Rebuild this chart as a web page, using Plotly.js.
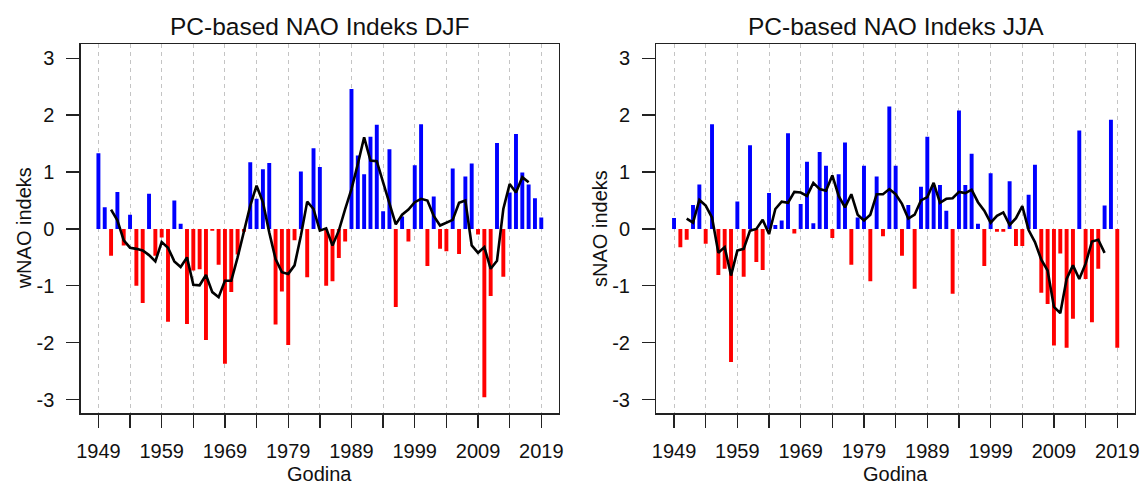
<!DOCTYPE html>
<html>
<head>
<meta charset="utf-8">
<script src="https://cdn.plot.ly/plotly-3.0.1.min.js"></script>
<style>
  html, body { margin: 0; padding: 0; background: #ffffff; }
  #chart { width: 1143px; height: 484px; }
</style>
</head>
<body>
<div id="chart"></div>
<script>
// ---- Data ----
const years = [1949,1950,1951,1952,1953,1954,1955,1956,1957,1958,1959,1960,1961,1962,1963,1964,1965,1966,1967,1968,
  1969,1970,1971,1972,1973,1974,1975,1976,1977,1978,1979,1980,1981,1982,1983,1984,1985,1986,1987,1988,
  1989,1990,1991,1992,1993,1994,1995,1996,1997,1998,1999,2000,2001,2002,2003,2004,2005,2006,2007,2008,
  2009,2010,2011,2012,2013,2014,2015,2016,2017,2018,2019];

// Winter (DJF) PC-based NAO index
const wNAO = [1.33,0.38,-0.47,0.65,-0.29,0.25,-1.00,-1.30,0.62,-0.47,-0.15,-1.63,0.50,0.09,-1.67,-0.73,-0.71,-1.95,-0.03,-0.63,
  -2.37,-1.11,-0.45,-0.05,1.17,0.53,1.05,1.16,-1.68,-1.10,-2.04,-0.20,1.01,-0.85,1.42,1.09,-1.00,-0.92,-0.51,-0.22,
  2.46,1.29,0.96,1.62,1.83,0.31,1.40,-1.37,0.22,-0.22,1.12,1.84,-0.65,0.57,-0.35,-0.39,1.06,-0.44,0.92,1.15,
  -0.10,-2.96,-1.18,1.51,-0.84,0.64,1.67,0.99,0.78,0.54,0.20];

// Summer (JJA) PC-based NAO index
const sNAO = [0.19,-0.32,-0.19,0.42,0.78,-0.26,1.84,-0.81,-0.70,-2.34,0.48,-0.84,1.47,-0.58,-0.72,0.63,0.07,0.15,1.68,-0.08,
  0.44,1.18,0.10,1.35,1.11,-0.16,0.96,1.52,-0.63,0.20,1.11,-0.92,0.92,-0.13,2.15,1.11,-0.47,0.42,-1.05,0.74,
  1.62,0.77,0.77,0.32,-1.14,2.08,0.77,1.32,0.09,-0.65,0.98,-0.05,-0.05,0.84,-0.30,-0.30,0.60,1.13,-1.12,-1.32,
  -2.05,-0.43,-2.09,-1.58,1.73,-0.88,-1.64,-0.70,0.41,1.92,-2.09];

// Smoothed curves (black lines), 1951-2017
const smoothYears = [1951,1952,1953,1954,1955,1956,1957,1958,1959,1960,1961,1962,1963,1964,1965,1966,1967,1968,1969,1970,
  1971,1972,1973,1974,1975,1976,1977,1978,1979,1980,1981,1982,1983,1984,1985,1986,1987,1988,1989,1990,
  1991,1992,1993,1994,1995,1996,1997,1998,1999,2000,2001,2002,2003,2004,2005,2006,2007,2008,2009,2010,
  2011,2012,2013,2014,2015,2016,2017];

const wSmooth = [0.34,0.15,-0.20,-0.33,-0.35,-0.38,-0.46,-0.57,-0.23,-0.33,-0.57,-0.67,-0.50,-0.98,-0.99,-0.81,-1.11,-1.20,-0.91,-0.91,
  -0.50,-0.06,0.41,0.76,0.47,-0.06,-0.53,-0.76,-0.79,-0.64,-0.12,0.48,0.35,-0.03,0.01,-0.29,-0.03,0.35,0.70,1.14,
  1.61,1.20,1.19,0.82,0.47,0.08,0.25,0.34,0.47,0.53,0.50,0.23,0.06,0.11,0.16,0.46,0.50,-0.29,-0.42,-0.32,
  -0.70,-0.56,0.35,0.79,0.64,0.91,0.82];

const sSmooth = [0.18,0.11,0.51,0.41,0.20,-0.42,-0.32,-0.82,-0.38,-0.35,-0.03,0.00,0.16,-0.09,0.35,0.48,0.46,0.65,0.64,0.58,
  0.81,0.70,0.67,0.94,0.58,0.38,0.61,0.25,0.15,0.25,0.61,0.61,0.70,0.61,0.44,0.18,0.25,0.50,0.56,0.81,
  0.46,0.53,0.54,0.65,0.63,0.69,0.47,0.32,0.11,0.23,0.29,0.07,0.19,0.40,-0.02,-0.23,-0.54,-0.73,-1.37,-1.48,
  -0.88,-0.64,-0.88,-0.61,-0.22,-0.19,-0.42];

const tickYears = [1949,1954,1959,1964,1969,1974,1979,1984,1989,1994,1999,2004,2009,2014,2019];
const tickLabels = ["1949","","1959","","1969","","1979","","1989","","1999","","2009","","2019"];
const yTicks = [-3,-2,-1,0,1,2,3];

const titles = ["PC-based NAO Indeks DJF", "PC-based NAO Indeks JJA"];
const yTitles = ["wNAO indeks", "sNAO indeks"];
const xTitle = "Godina";

// ---- Styling / layout ----
const W = 1143, H = 484;
const FONT = "Liberation Sans, Arial, Helvetica, sans-serif";
const TXT = "#111111";
const AX = "#222222";
const POS = "#0000FF", NEG = "#FF0000";

const px = x => x / W;
const py = y => 1 - y / H;

const boxTop = 44, boxBottom = 413.3;
const panels = [
  {left: 80.7, right: 559.0},
  {left: 656.3, right: 1135.0}
];

function colors(arr) { return arr.map(v => v >= 0 ? POS : NEG); }

const traces = [
  {type: 'bar', x: years, y: wNAO, width: 0.62, marker: {color: colors(wNAO), line: {width: 0}},
   xaxis: 'x', yaxis: 'y'},
  {type: 'scatter', mode: 'lines', x: smoothYears, y: wSmooth, line: {color: '#000000', width: 2.6},
   xaxis: 'x', yaxis: 'y'},
  {type: 'bar', x: years, y: sNAO, width: 0.62, marker: {color: colors(sNAO), line: {width: 0}},
   xaxis: 'x2', yaxis: 'y2'},
  {type: 'scatter', mode: 'lines', x: smoothYears, y: sSmooth, line: {color: '#000000', width: 2.6},
   xaxis: 'x2', yaxis: 'y2'}
];

function xAxis(p, anchor) {
  return {
    domain: [px(p.left), px(p.right)],
    anchor: anchor,
    range: [1946.2, 2021.8],
    tickmode: 'array', tickvals: tickYears, ticktext: tickLabels,
    ticks: 'outside', ticklen: 13, tickwidth: 1.3, tickcolor: AX,
    ticklabelstandoff: 6,
    showgrid: true, gridcolor: '#c4c4c4', gridwidth: 1, griddash: '4px,4px',
    showline: true, mirror: true, linecolor: AX, linewidth: 1.3,
    zeroline: false, automargin: false,
    tickfont: {family: FONT, size: 20, color: TXT}
  };
}
function yAxis(anchor) {
  return {
    domain: [py(boxBottom), py(boxTop)],
    anchor: anchor,
    range: [-3.24, 3.25],
    tickmode: 'array', tickvals: yTicks, ticktext: yTicks.map(String),
    ticks: 'outside', ticklen: 13, tickwidth: 1.3, tickcolor: AX,
    ticklabelstandoff: 8,
    showgrid: false, zeroline: false,
    showline: true, mirror: true, linecolor: AX, linewidth: 1.3,
    automargin: false,
    tickfont: {family: FONT, size: 20, color: TXT}
  };
}

const annotations = [];
panels.forEach((p, i) => {
  const cx = (p.left + p.right) / 2;
  annotations.push({text: titles[i], xref: 'paper', yref: 'paper', x: px(cx), y: py(26.6),
    xanchor: 'center', yanchor: 'middle', showarrow: false, font: {family: FONT, size: 24.5, color: TXT}});
  annotations.push({text: xTitle, xref: 'paper', yref: 'paper', x: px(cx), y: py(474),
    xanchor: 'center', yanchor: 'middle', showarrow: false, font: {family: FONT, size: 20, color: TXT}});
  annotations.push({text: yTitles[i], xref: 'paper', yref: 'paper', x: px(p.left - 57), y: py((boxTop + boxBottom) / 2),
    xanchor: 'center', yanchor: 'middle', textangle: -90, showarrow: false, font: {family: FONT, size: 20, color: TXT}});
});

const layout = {
  width: W, height: H,
  margin: {l: 0, r: 0, t: 0, b: 0, pad: 0},
  paper_bgcolor: '#ffffff', plot_bgcolor: '#ffffff',
  showlegend: false,
  barmode: 'overlay',
  xaxis: xAxis(panels[0], 'y'),
  yaxis: yAxis('x'),
  xaxis2: xAxis(panels[1], 'y2'),
  yaxis2: yAxis('x2'),
  annotations: annotations,
  font: {family: FONT, color: TXT}
};

Plotly.newPlot('chart', traces, layout, {displayModeBar: false, staticPlot: true});
</script>
</body>
</html>
